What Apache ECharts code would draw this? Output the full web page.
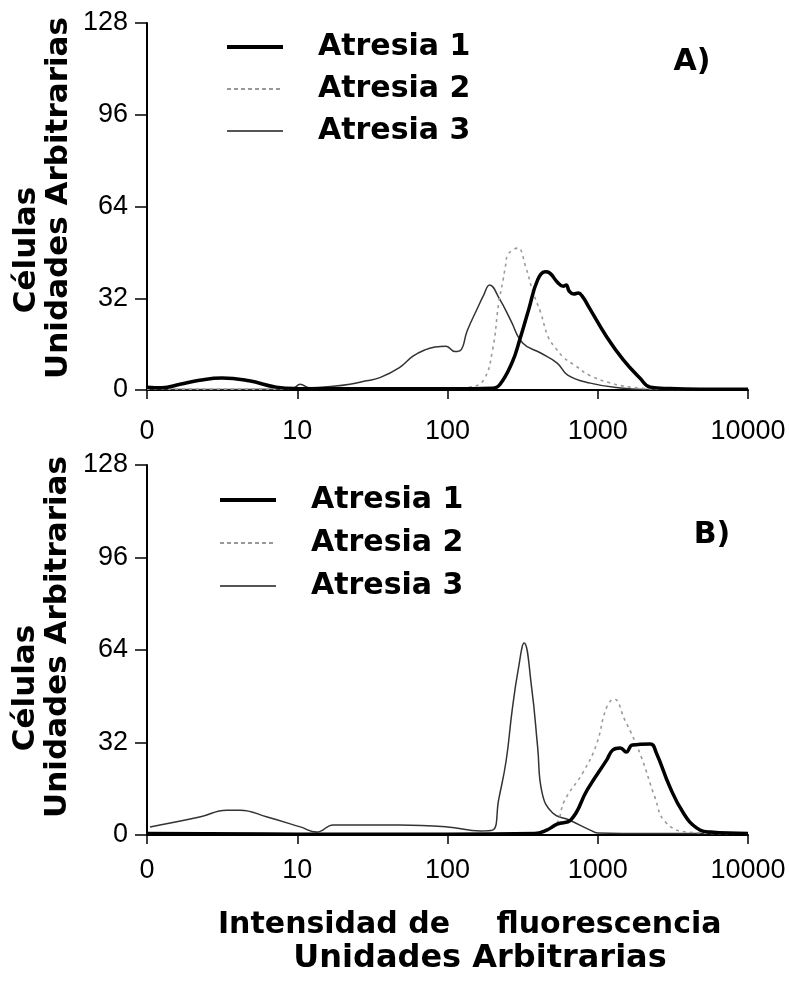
<!DOCTYPE html>
<html><head><meta charset="utf-8">
<script src="https://cdn.jsdelivr.net/npm/echarts@6/dist/echarts.min.js"></script>
<style>html,body{margin:0;padding:0;background:#fff}#c{width:789px;height:982px}</style>
</head><body><div id="c"></div>
<script>
// ---- data ----
const seriesNames = ['Atresia 1', 'Atresia 2', 'Atresia 3'];
const xTickLabels = ['0', '10', '100', '1000', '10000'];   // decades of fluorescence
const yMax = 128, yStep = 32;
// x = decade position (log10 of intensity, 0 -> "0", 4 -> "10000"), y = cells

// Panel A
const a1A = [[0,1.0],[0.1,0.8],[0.22,2.0],[0.35,3.4],[0.5,4.2],[0.68,3.2],[0.86,1.0],[1.0,0.5],[1.5,0.4],[2.0,0.4],[2.3,0.6],
  [2.35,2.0],[2.43,9.6],[2.48,17.4],[2.54,28],[2.60,38.4],[2.65,41.2],[2.68,40.8],[2.73,37.7],[2.77,36.2],[2.79,36.6],
  [2.81,34.5],[2.84,33.5],[2.87,33.8],[2.90,32.5],[2.94,29],[3.06,18.5],[3.17,10.5],[3.28,4.2],[3.35,1.0],[3.48,0.5],[3.68,0.3],[4.0,0.3]];
const a2A = [[0,0.3],[1,0.3],[2,0.3],[2.15,1.0],[2.24,3.5],[2.30,14],[2.34,30],[2.37,38.4],[2.385,43],[2.40,47],[2.44,49],
  [2.47,49.5],[2.52,43],[2.57,34],[2.62,27],[2.67,18.5],[2.72,14.6],[2.77,11.5],[2.85,8.5],[2.95,5],[3.08,2.5],[3.22,1],[3.42,0.3],[4,0]];
const a3A = [[0,0.3],[0.3,0.2],[0.9,0.3],[0.97,0.5],[1.02,2.0],[1.08,0.8],[1.24,1.3],[1.35,2.0],[1.46,3.2],[1.55,4.3],[1.68,7.8],
  [1.77,11.8],[1.85,14],[1.92,15],[1.99,15.3],[2.05,13.4],[2.09,14],[2.13,20.5],[2.20,28.6],[2.24,33],[2.28,36.6],[2.35,31.4],
  [2.42,24.4],[2.50,16.4],[2.62,12.9],[2.73,9.4],[2.80,5.2],[2.95,2.4],[3.15,0.7],[3.33,0.2],[4,0]];

// Panel B
const a1B = [[0,0.5],[1,0.3],[2,0.3],[2.58,0.5],[2.66,1.7],[2.73,3.8],[2.82,5.2],[2.93,15.6],[3.06,26],[3.10,29.4],[3.15,30.1],
  [3.19,28.7],[3.23,31.1],[3.35,31.5],[3.39,28.4],[3.48,16.6],[3.57,7.6],[3.66,2.4],[3.75,1.0],[4,0.5]];
const a2B = [[0,0.3],[2.5,0.3],[2.62,1.0],[2.72,3.5],[2.78,12],[2.90,21.5],[2.99,31.1],[3.06,44.3],[3.11,47],[3.18,39.8],
  [3.22,35.6],[3.29,27],[3.38,13.1],[3.45,4.5],[3.6,1.0],[4,0.3]];
const a3B = [[0.02,2.8],[0.35,6.2],[0.53,8.6],[0.62,8.6],[0.80,6.2],[1.02,2.8],[1.13,1.0],[1.24,3.5],[1.35,3.5],[1.68,3.5],
  [2.0,2.8],[2.22,1.4],[2.30,1.7],[2.34,12.1],[2.39,25.6],[2.43,43],[2.47,57],[2.51,66.4],[2.56,51],[2.60,30.4],[2.63,14.5],
  [2.70,7.6],[2.81,5.2],[2.95,1.7],[3.0,0.7],[3.35,0.5],[4,0.5]];

const panelData = [[a1A, a2A, a3A], [a1B, a2B, a3B]];

// ---- styles ----
const numFont = "'Liberation Sans',Arial,sans-serif";
const boldFont = "'DejaVu Sans',Verdana,sans-serif";
const lineStyles = [
  {color: '#000', width: 3.5, type: 'solid'},
  {color: '#9a9a9a', width: 1.6, type: [3, 4]},
  {color: '#333', width: 1.5, type: 'solid'}
];
const legendLineStyles = [
  {color: '#000', width: 4, type: 'solid'},
  {color: '#777', width: 1.6, type: [4, 3]},
  {color: '#555', width: 2, type: 'solid'}
];

const grids = [
  {left: 147, top: 23, width: 601, height: 367},
  {left: 147, top: 465, width: 601, height: 370}
];
const xMargins = [28, 22];

const xAxes = grids.map((g, i) => ({
  type: 'value', gridIndex: i, min: 0, max: xTickLabels.length - 1, interval: 1,
  axisLine: {onZero: false, lineStyle: {color: '#000', width: 2}},
  axisTick: {show: true, length: 9, lineStyle: {color: '#000', width: 1.5}},
  axisLabel: {margin: xMargins[i], color: '#000', fontFamily: numFont, fontSize: 27,
    formatter: v => xTickLabels[Math.round(v)]},
  splitLine: {show: false}
}));
const yAxes = grids.map((g, i) => ({
  type: 'value', gridIndex: i, min: 0, max: yMax, interval: yStep,
  axisLine: {show: true, onZero: false, lineStyle: {color: '#000', width: 2}},
  axisTick: {show: true, length: 12, lineStyle: {color: '#000', width: 1.5}},
  axisLabel: {margin: 19, color: '#000', fontFamily: numFont, fontSize: 27},
  splitLine: {show: false}
}));

const series = [];
panelData.forEach((arrs, p) => {
  arrs.forEach((d, k) => {
    series.push({
      name: seriesNames[k], type: 'line', xAxisIndex: p, yAxisIndex: p,
      data: d, symbol: 'none', smooth: 0.45,
      lineStyle: lineStyles[k], itemStyle: {color: lineStyles[k].color},
      z: 3 - k
    });
  });
});

const legendBase = {
  orient: 'vertical', itemWidth: 56, itemHeight: 14,
  data: seriesNames.map((n, k) => ({name: n, lineStyle: legendLineStyles[k]})),
  selectedMode: false,
  itemStyle: {opacity: 0, borderWidth: 0},
  textStyle: {fontFamily: boldFont, fontWeight: 'bold', fontSize: 30, lineHeight: 30,
    color: '#000', padding: [0, 0, 0, 30]}
};

const option = {
  animation: false,
  backgroundColor: '#fff',
  grid: grids,
  xAxis: xAxes,
  yAxis: yAxes,
  legend: [
    Object.assign({}, legendBase, {left: 220, top: 27, itemGap: 12}),
    Object.assign({}, legendBase, {left: 213, top: 480, itemGap: 13})
  ],
  series: series,
  graphic: [
    {type: 'text', x: 27, y: 250, rotation: Math.PI / 2,
      style: {text: 'Células', font: 'bold 31px ' + boldFont, fill: '#000', align: 'center', verticalAlign: 'middle'}},
    {type: 'text', x: 59, y: 198, rotation: Math.PI / 2,
      style: {text: 'Unidades Arbitrarias', font: 'bold 31px ' + boldFont, fill: '#000', align: 'center', verticalAlign: 'middle'}},
    {type: 'text', x: 26, y: 688, rotation: Math.PI / 2,
      style: {text: 'Células', font: 'bold 31px ' + boldFont, fill: '#000', align: 'center', verticalAlign: 'middle'}},
    {type: 'text', x: 58, y: 637, rotation: Math.PI / 2,
      style: {text: 'Unidades Arbitrarias', font: 'bold 31px ' + boldFont, fill: '#000', align: 'center', verticalAlign: 'middle'}},
    {type: 'text', x: 692, y: 62,
      style: {text: 'A)', font: 'bold 30px ' + boldFont, fill: '#000', align: 'center', verticalAlign: 'middle'}},
    {type: 'text', x: 712, y: 535,
      style: {text: 'B)', font: 'bold 30px ' + boldFont, fill: '#000', align: 'center', verticalAlign: 'middle'}},
    {type: 'text', x: 334, y: 925,
      style: {text: 'Intensidad de', font: 'bold 30px ' + boldFont, fill: '#000', align: 'center', verticalAlign: 'middle'}},
    {type: 'text', x: 609, y: 925,
      style: {text: 'fluorescencia', font: 'bold 30px ' + boldFont, fill: '#000', align: 'center', verticalAlign: 'middle'}},
    {type: 'text', x: 480, y: 959,
      style: {text: 'Unidades Arbitrarias', font: 'bold 32px ' + boldFont, fill: '#000', align: 'center', verticalAlign: 'middle'}}
  ]
};

const chart = echarts.init(document.getElementById('c'));
chart.setOption(option);
</script>
</body></html>
